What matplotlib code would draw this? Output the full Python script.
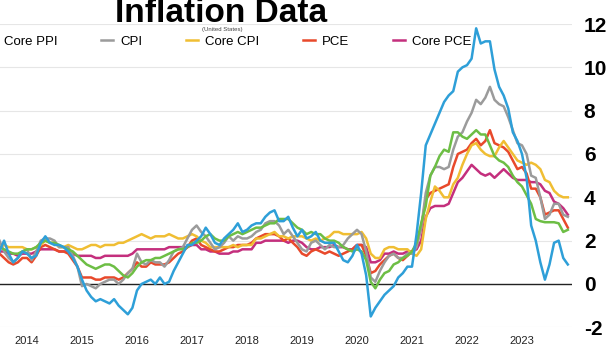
import numpy as np
import pandas as pd
import matplotlib
matplotlib.use("Agg")
import matplotlib.pyplot as plt

# Monthly YoY % values, Jul 2013 .. Nov 2023
dates = pd.date_range("2013-07-01", "2023-11-01", freq="MS")

ppi = [1.5, 2.0, 1.4, 1.0, 1.2, 1.5,
       1.4, 1.2, 1.3, 1.9, 2.2, 1.9, 1.8, 1.8, 1.7, 1.5, 1.2, 0.8,
       0.2, -0.3, -0.6, -0.8, -0.7, -0.8, -0.9, -0.7, -1.0, -1.2, -1.4, -1.1,
       -0.3, 0.0, 0.1, 0.2, 0.0, 0.3, 0.0, 0.1, 0.6, 1.0, 1.4, 1.8,
       1.8, 2.0, 2.2, 2.6, 2.3, 1.9, 1.8, 2.1, 2.3, 2.5, 2.8, 2.4,
       2.5, 2.7, 2.8, 2.8, 3.1, 3.3, 3.4, 2.9, 2.9, 3.1, 2.6, 2.2,
       2.5, 2.1, 2.2, 2.4, 2.0, 1.9, 1.9, 1.9, 1.5, 1.1, 1.0, 1.3,
       1.8, 1.4, 0.4, -1.5, -1.1, -0.8, -0.5, -0.3, -0.1, 0.3, 0.5, 0.8,
       0.8, 2.3, 4.2, 6.4, 6.9, 7.4, 7.9, 8.4, 8.7, 8.9, 9.8, 10.0,
       10.1, 10.4, 11.8, 11.1, 11.2, 11.2, 9.9, 9.1, 8.7, 8.1, 7.0, 6.6,
       6.0, 4.9, 2.7, 2.0, 1.0, 0.2, 0.9, 1.9, 2.0, 1.2, 0.9]

core_ppi = [1.7, 1.6, 1.5, 1.4, 1.4, 1.5,
            1.6, 1.6, 1.7, 1.9, 2.0, 1.9, 1.9, 1.8, 1.7, 1.6, 1.5, 1.3,
            1.1, 0.9, 0.8, 0.7, 0.8, 0.9, 0.9, 0.8, 0.6, 0.4, 0.3, 0.5,
            0.8, 1.0, 1.1, 1.1, 1.2, 1.2, 1.3, 1.4, 1.5, 1.6, 1.6, 1.7,
            1.9, 1.9, 2.0, 2.2, 2.3, 2.1, 2.0, 2.0, 2.2, 2.3, 2.4, 2.3,
            2.4, 2.5, 2.6, 2.6, 2.7, 2.8, 2.8, 3.0, 3.0, 3.0, 2.8, 2.6,
            2.5, 2.3, 2.4, 2.3, 2.3, 2.1, 2.0, 2.0, 1.9, 1.7, 1.6, 1.5,
            1.6, 1.5, 1.1, 0.1, -0.2, 0.2, 0.5, 0.6, 0.9, 1.0, 1.2, 1.3,
            1.5, 1.9, 2.8, 3.6, 5.0, 5.4, 5.9, 6.2, 6.1, 7.0, 7.0, 6.8,
            6.7, 6.9, 7.1, 6.9, 6.9, 6.4, 5.9, 5.7, 5.6, 5.4, 5.0, 4.7,
            4.5, 4.1, 3.7, 3.0, 2.9, 2.85, 2.85, 2.85, 2.8, 2.4, 2.5]

cpi = [2.0, 1.5, 1.2, 1.0, 1.2, 1.5,
       1.6, 1.1, 1.5, 2.0, 2.1, 2.1, 2.0, 1.7, 1.7, 1.7, 1.3, 0.8,
       -0.1, 0.0, -0.1, -0.2, 0.0, 0.1, 0.2, 0.2, 0.0, 0.2, 0.5, 0.7,
       1.4, 1.0, 0.9, 1.1, 1.0, 1.0, 0.8, 1.1, 1.5, 1.6, 1.7, 2.1,
       2.5, 2.7, 2.4, 2.2, 1.9, 1.6, 1.7, 1.9, 2.2, 2.0, 2.2, 2.1,
       2.1, 2.2, 2.4, 2.5, 2.8, 2.9, 2.9, 2.7, 2.3, 2.5, 2.2, 1.9,
       1.6, 1.5, 1.9, 2.0, 1.8, 1.6, 1.8, 1.7, 1.7, 1.8, 2.1, 2.3,
       2.5, 2.3, 1.5, 0.3, 0.1, 0.6, 1.0, 1.3, 1.4, 1.2, 1.2, 1.4,
       1.4, 1.7, 2.6, 4.2, 5.0, 5.4, 5.4, 5.3, 5.4, 6.2, 6.8, 7.0,
       7.5, 7.9, 8.5, 8.3, 8.6, 9.1, 8.5, 8.3, 8.2, 7.7, 7.1, 6.5,
       6.4, 6.0, 5.0, 4.9, 4.0, 3.0, 3.2, 3.7, 3.7, 3.2, 3.1]

core_cpi = [1.7, 1.8, 1.7, 1.7, 1.7, 1.7,
            1.6, 1.6, 1.7, 1.8, 2.0, 1.9, 1.9, 1.7, 1.7, 1.8, 1.7, 1.6,
            1.6, 1.7, 1.8, 1.8, 1.7, 1.8, 1.8, 1.8, 1.9, 1.9, 2.0, 2.1,
            2.2, 2.3, 2.2, 2.1, 2.2, 2.2, 2.2, 2.3, 2.2, 2.1, 2.1, 2.2,
            2.3, 2.2, 2.0, 1.9, 1.7, 1.7, 1.7, 1.7, 1.7, 1.8, 1.7, 1.8,
            1.8, 1.8, 2.1, 2.1, 2.2, 2.3, 2.4, 2.2, 2.2, 2.1, 2.2, 2.2,
            2.2, 2.1, 2.0, 2.1, 2.0, 2.1, 2.2, 2.4, 2.4, 2.3, 2.3, 2.3,
            2.3, 2.4, 2.1, 1.4, 1.2, 1.2, 1.6, 1.7, 1.7, 1.6, 1.6, 1.6,
            1.4, 1.3, 1.6, 3.0, 3.8, 4.5, 4.3, 4.0, 4.0, 4.6, 4.9, 5.5,
            6.0, 6.4, 6.5, 6.2, 6.0, 5.9, 5.9, 6.3, 6.6, 6.3, 6.0, 5.7,
            5.6, 5.5, 5.6, 5.5, 5.3, 4.8, 4.7, 4.3, 4.1, 4.0, 4.0]

pce = [1.4, 1.2, 1.0, 0.9, 1.0, 1.2,
       1.2, 1.0, 1.3, 1.7, 1.8, 1.7, 1.6, 1.5, 1.5, 1.4, 1.1, 0.8,
       0.3, 0.3, 0.3, 0.2, 0.2, 0.3, 0.3, 0.3, 0.2, 0.3, 0.5, 0.7,
       1.0, 0.8, 0.8, 1.0, 0.9, 0.9, 0.9, 1.0, 1.2, 1.4, 1.5, 1.7,
       2.0, 2.1, 1.8, 1.7, 1.6, 1.5, 1.5, 1.6, 1.7, 1.7, 1.8, 1.8,
       1.8, 1.9, 2.1, 2.2, 2.3, 2.3, 2.3, 2.2, 2.0, 2.1, 1.9, 1.7,
       1.4, 1.3, 1.5, 1.6, 1.5, 1.4, 1.5, 1.4, 1.3, 1.4, 1.5, 1.6,
       1.8, 1.8, 1.3, 0.5, 0.6, 0.9, 1.1, 1.3, 1.4, 1.2, 1.1, 1.3,
       1.5, 1.8, 2.6, 3.9, 4.2, 4.3, 4.4, 4.5, 4.6, 5.4, 6.0, 6.1,
       6.2, 6.5, 6.7, 6.4, 6.6, 7.1, 6.5, 6.4, 6.3, 6.1, 5.7, 5.3,
       5.4, 5.1, 4.4, 4.4, 4.0, 3.2, 3.3, 3.4, 3.4, 3.0, 2.6]

core_pce = [1.5, 1.5, 1.4, 1.4, 1.3, 1.4,
            1.4, 1.4, 1.5, 1.6, 1.6, 1.6, 1.6, 1.5, 1.5, 1.5, 1.4, 1.3,
            1.3, 1.3, 1.3, 1.2, 1.2, 1.3, 1.3, 1.3, 1.3, 1.3, 1.3, 1.4,
            1.6, 1.6, 1.6, 1.6, 1.6, 1.6, 1.6, 1.7, 1.7, 1.7, 1.7, 1.7,
            1.8, 1.8, 1.6, 1.6, 1.5, 1.5, 1.4, 1.4, 1.4, 1.5, 1.5, 1.6,
            1.6, 1.6, 1.9, 1.9, 2.0, 2.0, 2.0, 2.0, 2.0, 1.9, 2.0, 2.0,
            1.9, 1.7, 1.6, 1.6, 1.7, 1.7, 1.7, 1.8, 1.7, 1.7, 1.6, 1.6,
            1.8, 1.8, 1.7, 1.0, 1.0, 1.1, 1.4, 1.4, 1.5, 1.4, 1.4, 1.5,
            1.5, 1.6, 2.0, 3.1, 3.5, 3.6, 3.6, 3.6, 3.7, 4.2, 4.7, 4.9,
            5.2, 5.5, 5.3, 5.1, 5.0, 5.1, 4.9, 5.1, 5.3, 5.1, 4.9, 4.8,
            4.8, 4.8, 4.7, 4.7, 4.6, 4.3, 4.2, 3.8, 3.7, 3.5, 3.2]

names = ["PPI", "Core PPI", "CPI", "Core CPI", "PCE", "Core PCE"]
series = [ppi, core_ppi, cpi, core_cpi, pce, core_pce]
colors = ["#2E9FD8", "#6DBE45", "#9B9B9B", "#F0BE33", "#E8492B", "#C42F7D"]
year_ticks = list(range(2014, 2024))

x = dates.year + (dates.month - 1) / 12.0

plt.rcParams["font.family"] = ["Liberation Sans", "DejaVu Sans"]
plt.rcParams["axes.unicode_minus"] = False

W, H = 611, 344
fig = plt.figure(figsize=(W / 100, H / 100), dpi=100)
ax = fig.add_axes([0, 1 - 327.3 / H, 572 / W, (327.3 - 24) / H])

handles = {}
for name, vals, col in reversed(list(zip(names, series, colors))):
    (ln,) = ax.plot(x, vals, color=col, lw=1.8, solid_joinstyle="round", zorder=3)
    handles[name] = ln

ax.set_ylim(-2, 12)
ax.set_xlim(2014 - 27 / 55, 2014 + 545 / 55)
ax.set_yticks(range(-2, 13, 2))
ax.set_xticks(year_ticks)
ax.set_xticklabels([str(y) for y in year_ticks])
ax.grid(axis="y", color="#E6E6E6", lw=0.8, zorder=0)
ax.axhline(0, color="#222222", lw=1.0, zorder=2)
for s in ax.spines.values():
    s.set_visible(False)
ax.yaxis.tick_right()
ax.tick_params(axis="y", length=0, pad=8.5, labelsize=15)
for lab in ax.get_yticklabels():
    lab.set_fontweight("bold")
ax.tick_params(axis="x", length=0, pad=6, labelsize=8, labelcolor="#222222")

fig.text(221 / W, 1 - 22 / H, "Inflation Data", ha="center", va="baseline",
         fontsize=24, fontweight="bold", color="black")
fig.text(222 / W, 1 - 29 / H, "(United States)", ha="center", va="center",
         fontsize=4.3, color="#444444")

leg = fig.legend([handles[n] for n in names], names, ncol=6, loc="center left",
                 bbox_to_anchor=(-99 / W, 1 - 42 / H), bbox_transform=fig.transFigure,
                 frameon=False, fontsize=9.5, handlelength=0.9, handletextpad=0.55,
                 columnspacing=3.3, borderpad=0, borderaxespad=0)

fig.savefig("out.png", dpi=100)
